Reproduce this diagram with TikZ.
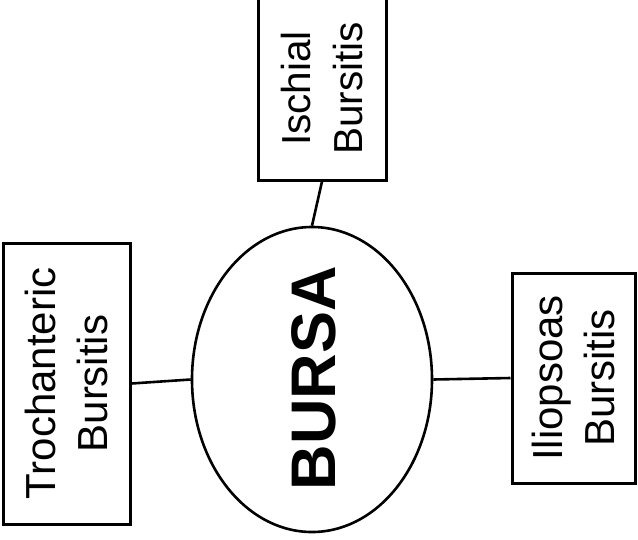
\documentclass[tikz,border=0pt]{standalone}
\usepackage{fontspec}
\setmainfont{Liberation Sans}
\usetikzlibrary{shapes.geometric}
\begin{document}
\begin{tikzpicture}[x=1pt,y=-1pt,
  boxnode/.style={draw,line width=3pt,rotate=90,align=center,inner sep=0pt,
    font=\fontsize{42}{52.5}\selectfont},
  hub/.style={draw,ellipse,line width=2.6pt,inner sep=0pt,minimum width=240pt,minimum height=305pt},
  hubtext/.style={rotate=90,inner sep=0pt,font=\fontsize{63}{70}\selectfont\bfseries},
  link/.style={line width=2.6pt}]
\useasboundingbox (0,0) rectangle (638,539);
\node[hub] (b) at (312,379.5) {};
\node[hubtext] (bt) at (313.5,378) {BURSA};
\node[boxnode,minimum width=281pt,minimum height=127pt] (t) at (66.5,383.5) {Trochanteric\\Bursitis};
\node[boxnode,minimum width=183pt,minimum height=128pt,font=\fontsize{40.5}{52.5}\selectfont] (i) at (322,88.5) {Ischial\\Bursitis};
\node[boxnode,minimum width=210pt,minimum height=123pt] (l) at (573.5,378) {Iliopsoas\\Bursitis};
\draw[link] (t.south) -- (b.west);
\draw[link] (i.west) -- (b.north);
\draw[link] (l.north) -- (b.east);
\end{tikzpicture}
\end{document}
